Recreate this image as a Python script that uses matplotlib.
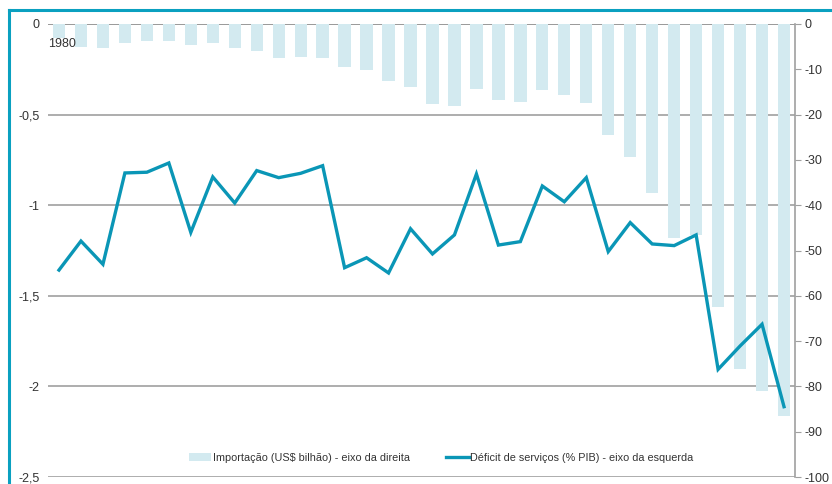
import matplotlib
matplotlib.use("Agg")
import matplotlib.pyplot as plt
from matplotlib.patches import Patch
from matplotlib.lines import Line2D
import matplotlib.transforms as mtransforms
import numpy as np

plt.rcParams['font.family'] = ['Liberation Sans Narrow', 'Liberation Sans', 'DejaVu Sans']

years = list(range(1980, 2014))
importacao = [-3.0, -5.1, -5.4, -4.1, -3.7, -3.8, -4.6, -4.3, -5.2, -6.0,
              -7.5, -7.2, -7.4, -9.4, -10.2, -12.5, -13.8, -17.7, -18.1, -14.3,
              -16.8, -17.2, -14.6, -15.6, -17.4, -24.5, -29.3, -37.2, -47.2, -46.6,
              -62.5, -76.2, -81.0, -86.5]
deficit = [-1.358, -1.198, -1.326, -0.822, -0.818, -0.767, -1.150, -0.844, -0.988, -0.809,
           -0.848, -0.824, -0.782, -1.345, -1.290, -1.374, -1.130, -1.269, -1.164, -0.828,
           -1.220, -1.201, -0.894, -0.981, -0.848, -1.256, -1.096, -1.214, -1.223, -1.164,
           -1.906, -1.777, -1.657, -2.112]
left_ticks = [0, -0.5, -1, -1.5, -2, -2.5]
left_labels = ['0', '-0,5', '-1', '-1,5', '-2', '-2,5']
right_ticks = [0, -10, -20, -30, -40, -50, -60, -70, -80, -90, -100]
right_labels = ['0', '-10', '-20', '-30', '-40', '-50', '-60', '-70', '-80', '-90', '-100']
bar_label = 'Importação (US$ bilhão) - eixo da direita'
line_label = 'Déficit de serviços (% PIB) - eixo da esquerda'

W, H = 832, 484
fig = plt.figure(figsize=(W / 100, H / 100), dpi=100)
x0, x1, y0, y1 = 48, 795, 24, 477
ax = fig.add_axes([x0 / W, 1 - y1 / H, (x1 - x0) / W, (y1 - y0) / H])
axb = ax.twinx()
ax.set_zorder(axb.get_zorder() + 1)
ax.patch.set_visible(False)

line_c = '#0a96b6'
bar_c = '#d3eaf0'
txt_c = '#333333'
grid_c = '#a0a0a0'

ax.set_ylim(-2.5, 0)
ax.set_xlim(-0.5, len(years) - 0.5)
axb.set_ylim(-100, 0)

xs = np.arange(len(years))
# gridlines at the left-axis ticks, drawn behind the bars
gtrans = mtransforms.blended_transform_factory(axb.transAxes, ax.transData)
for t in left_ticks:
    c = '#888888' if t == 0 else grid_c
    axb.add_line(Line2D([0, 1], [t, t], transform=gtrans, color=c, linewidth=1.2, zorder=1))

axb.bar(xs, importacao, width=0.56, color=bar_c, zorder=2)
axb.set_yticks(right_ticks)
axb.set_yticklabels(right_labels)
axb.tick_params(axis='y', direction='out', length=4, color=grid_c, labelcolor=txt_c,
                labelsize=9, pad=3)

ax.plot(xs, deficit, color=line_c, linewidth=2.4, solid_joinstyle='miter', zorder=3)
ax.set_yticks(left_ticks)
ax.set_yticklabels(left_labels)
ax.tick_params(axis='y', length=0, labelcolor=txt_c, labelsize=9, pad=6)
ax.set_xticks([])
axb.set_xticks([])

for a in (ax, axb):
    for s in ['left', 'bottom', 'top', 'right']:
        a.spines[s].set_visible(False)
axb.spines['right'].set_visible(True)
axb.spines['right'].set_color(grid_c)
axb.spines['right'].set_linewidth(1.2)

ax.text(-0.5, -0.075, str(years[0]), ha='left', va='top', color=txt_c, fontsize=9)

handles = [Patch(facecolor=bar_c, edgecolor='none'),
           Line2D([0], [0], color=line_c, linewidth=2.4)]
fig.legend(handles, [bar_label, line_label], loc='center', ncol=2,
           bbox_to_anchor=(441 / W, 1 - 458 / H), frameon=False, fontsize=7.8,
           handlelength=2.1, handletextpad=0.15, columnspacing=3.3,
           labelcolor=txt_c)

# teal frame
frame_c = '#0aa0c0'
fig.add_artist(Line2D([9 / W, 9 / W], [0, 1 - 10 / H], color=frame_c, linewidth=2.2,
                      transform=fig.transFigure))
fig.add_artist(Line2D([9 / W, 1], [1 - 10 / H, 1 - 10 / H], color=frame_c, linewidth=2.2,
                      transform=fig.transFigure))

fig.savefig('out.png', dpi=100)
